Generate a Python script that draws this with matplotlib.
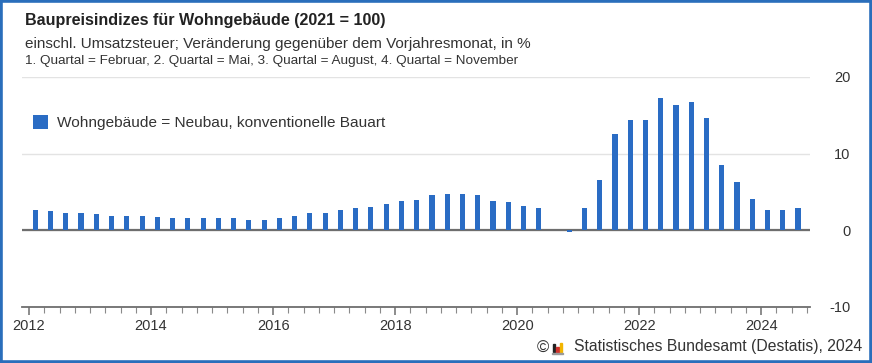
import matplotlib.pyplot as plt
from matplotlib.patches import Rectangle
from matplotlib.ticker import MultipleLocator

plt.rcParams['font.family'] = ['Liberation Sans', 'DejaVu Sans']
plt.rcParams['axes.unicode_minus'] = False

# Quartalswerte: Feb, Mai, Aug, Nov
years = [y for y in range(2012, 2025) for _ in range(4)][:51]
months = [2, 5, 8, 11] * 13
months = months[:51]
values = [
    2.6, 2.5, 2.3, 2.3,
    2.1, 1.9, 1.9, 1.9,
    1.7, 1.6, 1.6, 1.6,
    1.6, 1.6, 1.4, 1.4,
    1.6, 1.9, 2.2, 2.2,
    2.6, 2.9, 3.1, 3.5,
    3.8, 4.0, 4.6, 4.7,
    4.7, 4.6, 3.8, 3.7,
    3.2, 2.9, 0.0, -0.2,
    2.9, 6.6, 12.6, 14.4,
    14.4, 17.2, 16.4, 16.7,
    14.7, 8.5, 6.3, 4.1,
    2.6, 2.6, 2.9,
]
series_label = "Wohngebäude = Neubau, konventionelle Bauart"
year_ticks = [2012, 2014, 2016, 2018, 2020, 2022, 2024]
y_ticks = [-10, 0, 10, 20]

BLUE = "#2a6cc4"
W, H = 872, 363


def main():
    x = [y + (m - 1) / 12 + 0.02 for y, m in zip(years, months)]

    fig = plt.figure(figsize=(W / 100, H / 100), dpi=100)
    ax = fig.add_axes([22 / W, 56 / H, 788 / W, 230 / H])

    ax.bar(x, values, width=0.085, color=BLUE, label=series_label, zorder=3)
    ax.axhline(0, color="#6e6e6e", lw=1.6, zorder=2)

    ax.set_xlim(2011.885, 2024.80)
    ax.set_ylim(-10, 20)

    for s in ["top", "left", "right"]:
        ax.spines[s].set_visible(False)
    ax.spines["bottom"].set_color("#6e6e6e")
    ax.spines["bottom"].set_linewidth(1.3)

    ax.set_xticks(year_ticks)
    ax.set_xticklabels([str(t) for t in year_ticks])
    ax.xaxis.set_minor_locator(MultipleLocator(0.25))
    ax.tick_params(axis="x", which="major", length=6, width=1.1, color="#6e6e6e",
                   labelsize=10.5, labelcolor="#333333", pad=3)
    ax.tick_params(axis="x", which="minor", length=4, width=0.8, color="#8a8a8a")

    ax.yaxis.tick_right()
    ax.set_yticks(y_ticks)
    ax.tick_params(axis="y", length=0, labelsize=10.5, labelcolor="#333333", pad=29)
    for lab in ax.get_yticklabels():
        lab.set_horizontalalignment("right")
    ax.grid(axis="y", color="#e3e3e3", lw=1, zorder=0)

    leg = ax.legend(loc="upper left", bbox_to_anchor=(0.006, 0.86), frameon=False,
                    fontsize=11.1, handlelength=0.95, handleheight=0.95,
                    handletextpad=0.6, borderaxespad=0)
    for t in leg.get_texts():
        t.set_color("#333333")

    fig.text(25 / W, 1 - 20 / H, "Baupreisindizes für Wohngebäude (2021 = 100)",
             fontsize=11.6, fontweight="bold", color="#222222", va="center")
    fig.text(25 / W, 1 - 44 / H,
             "einschl. Umsatzsteuer; Veränderung gegenüber dem Vorjahresmonat, in %",
             fontsize=11, color="#333333", va="center")
    fig.text(25 / W, 1 - 61 / H,
             "1. Quartal = Februar, 2. Quartal = Mai, 3. Quartal = August, 4. Quartal = November",
             fontsize=9.7, color="#333333", va="center")

    fig.text(862 / W, 1 - 347 / H, "Statistisches Bundesamt (Destatis), 2024",
             fontsize=11.3, color="#333333", ha="right", va="center")
    fig.text(537 / W, 1 - 348 / H, "©", fontsize=12, color="#333333", va="center")
    # kleines Logo
    for i, (hh, c) in enumerate([(8, "#222222"), (5, "#d0312d"), (9, "#f2b500")]):
        fig.patches.append(Rectangle(((553 + i * 3.4) / W, (363 - 352) / H), 2.4 / W, hh / H,
                                     transform=fig.transFigure, color=c))
    fig.patches.append(Rectangle((552 / W, (363 - 354) / H), 11 / W, 1.2 / H,
                                 transform=fig.transFigure, color="#9a9a9a"))

    # Rahmen
    fig.patches.append(Rectangle((0.0015, 0.004), 0.997, 0.992, transform=fig.transFigure,
                                 fill=False, edgecolor="#2a6ebb", lw=2.6))

    fig.savefig("out.png", dpi=100)


if __name__ == "__main__":
    main()
